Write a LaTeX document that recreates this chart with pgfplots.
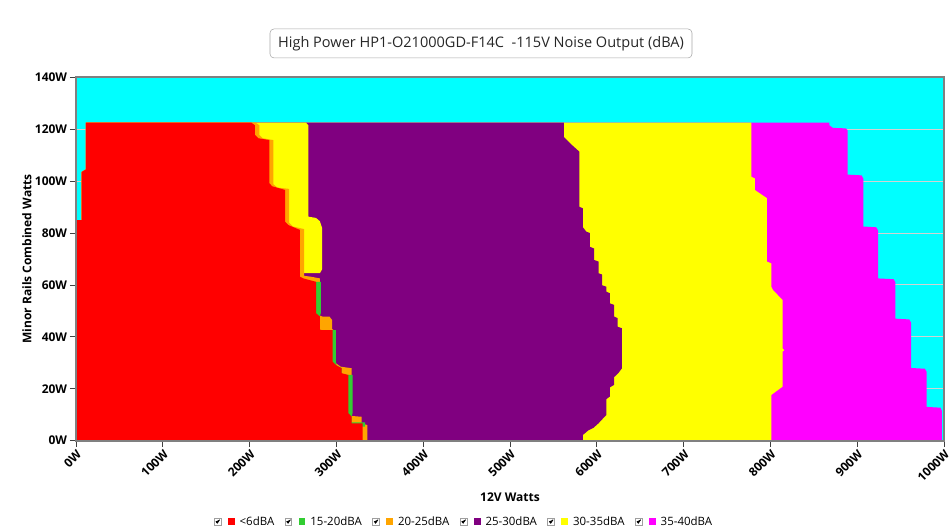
\documentclass[border=0pt]{standalone}
\usepackage{pgfplots}
\pgfplotsset{compat=1.18}
\usepackage{fontspec}
\setmainfont{Open Sans}
\definecolor{cRed}{RGB}{255,0,0}
\definecolor{cGreen}{RGB}{50,205,50}
\definecolor{cOrange}{RGB}{255,165,0}
\definecolor{cPurple}{RGB}{128,0,128}
\definecolor{cYellow}{RGB}{255,255,0}
\definecolor{cMagenta}{RGB}{255,0,255}
\definecolor{cCyan}{RGB}{0,255,255}
\pgfplotsset{
  layers/mylayers/.define layer set={axis background,axis grid,main,axis ticks,axis lines,axis tick labels,axis descriptions,axis foreground}{
    grid style={/pgfplots/on layer=axis grid},
    tick style={/pgfplots/on layer=axis ticks},
    axis line style={/pgfplots/on layer=axis lines},
    label style={/pgfplots/on layer=axis descriptions},
    legend style={/pgfplots/on layer=axis descriptions},
    title style={/pgfplots/on layer=axis descriptions},
    ticklabel style={/pgfplots/on layer=axis tick labels},
    axis background@ style={/pgfplots/on layer=axis background},
  },
}
\begin{document}
\begin{tikzpicture}
\begin{axis}[
  set layers=mylayers,
  at={(0,0)}, anchor=south west, scale only axis,
  width=651pt, height=272.55pt,
  xmin=0, xmax=1000, ymin=0, ymax=140,
  xtick={0,100,...,1000},
  xticklabels={0W,100W,200W,300W,400W,500W,600W,700W,800W,900W,1000W},
  ytick={0,20,...,140},
  yticklabels={0W,20W,40W,60W,80W,100W,120W,140W},
  tick pos=left, tick align=outside, major tick length=4.5pt,
  tick style={black!75, line width=0.6pt},
  ymajorgrids, grid style={gray!35, line width=0.75pt},
  axis line style={draw=gray, line width=1.6pt},
  axis background/.style={fill=cCyan},
  yticklabel style={font=\bfseries\fontsize{9}{11}\selectfont, inner sep=2pt},
  xticklabel style={font=\bfseries\fontsize{9}{11}\selectfont, rotate=45, anchor=north east, inner sep=1pt},
  xlabel={12V Watts},
  ylabel={Minor Rails Combined Watts},
  xlabel style={font=\bfseries\fontsize{9}{11}\selectfont, at={(axis description cs:0.5,-0.155)}, anchor=center},
  ylabel style={font=\bfseries\fontsize{9}{11}\selectfont, at={(axis description cs:-0.0565,0.5)}, anchor=center},
  title={High Power HP1-O21000GD-F14C\ \ -115V Noise Output (dBA)},
  title style={at={(axis description cs:0.4666,1.071)}, anchor=center, draw=gray!70, rounded corners=3pt,
    minimum width=316.5pt, minimum height=21.75pt, inner sep=0pt, font=\fontsize{10.9}{13}\selectfont, text=black!85},
  no markers,
  reverse legend,
  legend columns=6,
  legend image code/.code={
    \draw[gray!75, line width=0.45pt, fill=white] (0pt,-2.5pt) rectangle (5pt,2.5pt);
    \draw[black, line width=0.55pt] (1.1pt,0.2pt) -- (2.2pt,-1.1pt) -- (4pt,1.5pt);
    \fill[#1] (10.2pt,-2.5pt) rectangle (15.2pt,2.5pt);
    \path (17.6pt,0pt);
  },
  legend style={at={(axis description cs:0.447,-0.223)}, anchor=center, draw=none, fill=none,
    font=\fontsize{8.6}{10}\selectfont, inner sep=0pt,
    /tikz/every even column/.append style={column sep=6.5pt},
    nodes={inner sep=1.4pt}},
]
% 35-40dBA (magenta)
\addplot[fill=cMagenta, draw=none] coordinates {
(868,122.5)(868,121.5)(872,120.5)(887,120.3)(889,119.5)(889,102.5)(905,102.2)(907,101)(907,82.5)
(922,82.2)(924,81)(924,62.5)(942,62.2)(944,61)(944,47)(960,46.7)(962,45.5)(962,28)(978,27.7)
(980,26.5)(980,13)(996,12.7)(997.5,11.5)(997.5,0)
(0,0)(0,85)(6.5,85)(6.5,103.5)(11.5,104.5)(11.5,122.5)};
\addlegendentry{35-40dBA}
% 30-35dBA (yellow)
\addplot[fill=cYellow, draw=none] coordinates {
(778,122.5)(778,101.7)(782,101)(782,96.6)(796,93.4)(796,69)(801,68.3)(801,59.3)(803,58)(814,54.2)
(814,35.5)(816,34.9)(814,34.3)(814,20.8)(801,17.6)(801,0)
(0,0)(0,85)(6.5,85)(6.5,103.5)(11.5,104.5)(11.5,122.5)};
\addlegendentry{30-35dBA}
% 25-30dBA (purple)
\addplot[fill=cPurple, draw=none] coordinates {
(562,122.5)(562,117)(565,116)(571,114)(580,111.3)(580,90.1)(584,89.5)(584,82.2)(588,80.5)(592,80)
(592,74.7)(597,74)(597,69.6)(602,69)(602,64.5)(606,64)(606,59.9)(611,59.3)(611,57.4)(615,56.8)
(615,52.9)(620,52.3)(620,47.8)(624,47.2)(624,43.9)(629,43.3)(629,27.9)(625,26.1)(620,24.5)
(620,21.5)(615,20.5)(615,17)(611,16)(611,9.9)(607,8.5)(602,6.7)(596,4.9)(590,3.9)(584,2.2)(584,0)
(0,0)(0,85)(6.5,85)(6.5,103.5)(11.5,104.5)(11.5,122.5)};
\addlegendentry{25-30dBA}
% 30-35dBA island (yellow)
\addplot[fill=cYellow, draw=none, forget plot] coordinates {
(265,122.5)(267.6,121.5)(267.6,86.3)(276.5,85.8)(281,84.5)(283.5,82)(283.5,66)(281,64.5)
(0,64.5)(0,85)(6.5,85)(6.5,103.5)(11.5,104.5)(11.5,122.5)};
% 20-25dBA (orange)
\addplot[fill=cOrange, draw=none] coordinates {
(207,122.5)(211.2,121.5)(211.2,117.8)(215,116.5)(227.3,115.8)(227.3,98.8)(232,97.5)(245.4,97)
(245.4,84)(250,82.5)(262.7,81.5)(262.7,63.5)(270,63.2)(281.1,62.5)(281.1,61.2)(277.5,61)
(277.5,49)(280,48.3)(284,47.8)(292,47.8)(295,46.5)(295,43)(297,42.6)(297,30.4)(305,28.5)
(317.6,27.9)(317.6,25.3)(314.5,25)(314.5,10.6)(318,9.5)(329.1,9.2)(329.1,6.7)(335.6,6)(335.6,0)
(0,0)(0,85)(6.5,85)(6.5,103.5)(11.5,104.5)(11.5,122.5)};
\addlegendentry{20-25dBA}
% 15-20dBA (green)
\addplot[fill=cGreen, draw=none] coordinates {
(0,61.2)(282,61.2)(282,49.1)(281,48)(281,42.6)(299.5,42.6)(299.5,30.4)(300,29)(306,28)(306,25.3)
(318.6,25.3)(318.6,10.6)(317.6,9.2)(317.6,7)(333,7)(333,5.4)(0,5.4)};
\addlegendentry{15-20dBA}
% <6dBA (red)
\addplot[fill=cRed, draw=none] coordinates {
(202,122.5)(206.2,121.5)(206.2,117.8)(210,116.5)(222.7,115.8)(222.7,99.2)(226,98)(240.8,96.6)
(240.8,84.4)(245,83)(258,81.2)(258,63.2)(262,62.5)(276.5,61.2)(276.5,49.1)(279,48.4)(281,47.8)
(281,42.8)(283,42.6)(295.7,42.6)(295.7,30.4)(300,29)(306,27.9)(306,26)(313.7,25.3)(313.7,10.6)
(317.6,9.2)(317.6,6.7)(330.3,6.7)(330.3,0)
(0,0)(0,85)(6.5,85)(6.5,103.5)(11.5,104.5)(11.5,122.5)};
\addlegendentry{<6dBA}
\end{axis}
\pgfresetboundingbox
\useasboundingbox (-57pt,-67pt) rectangle (655.5pt,330.5pt);
\end{tikzpicture}
\end{document}
